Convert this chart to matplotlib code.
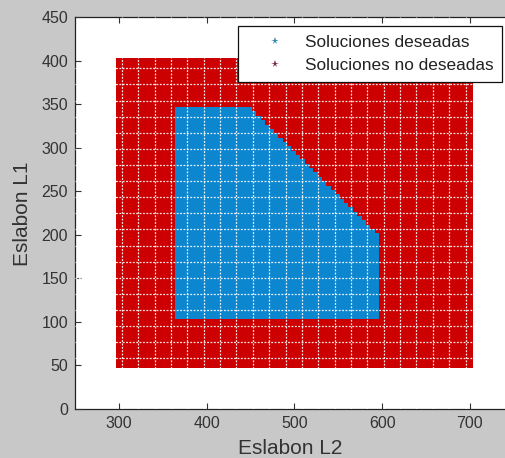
import numpy as np
import matplotlib
matplotlib.use("Agg")
import matplotlib.pyplot as plt
from matplotlib.path import Path
from matplotlib.ticker import FixedLocator

plt.rcParams['font.family'] = ['Liberation Sans', 'DejaVu Sans']

# Design sweep
L2_min, L2_max, L2_step = 300, 700, 5
L1_min, L1_max, L1_step = 50, 400, 5
# Boundary of the "desired" region (L2, L1)
desired_poly = [(363, 103), (363, 347), (452, 347), (597, 202), (597, 103)]

x_ticks = [300, 400, 500, 600, 700]
y_ticks = [0, 50, 100, 150, 200, 250, 300, 350, 400, 450]
labels = ["Soluciones deseadas", "Soluciones no deseadas"]

L2 = np.arange(L2_min, L2_max + 0.1, L2_step)
L1 = np.arange(L1_min, L1_max + 0.1, L1_step)
XX, YY = np.meshgrid(L2, L1)
pts = np.column_stack([XX.ravel(), YY.ravel()])
inside = Path(desired_poly).contains_points(pts)

W, H = 505, 458
fig = plt.figure(figsize=(W / 100, H / 100), dpi=100)
fig.patch.set_facecolor('#c8c8c8')
ax = fig.add_axes([75 / W, 49 / H, 438.75 / W, 392 / H])
ax.set_facecolor('white')

blue = '#0c86cf'
red = '#cc0000'
ax.plot(pts[inside, 0], pts[inside, 1], 's', color=blue, markersize=3.8,
        markeredgewidth=0, linestyle='none', label=labels[0])
ax.plot(pts[~inside, 0], pts[~inside, 1], 's', color=red, markersize=3.8,
        markeredgewidth=0, linestyle='none', label=labels[1])

ax.set_xlim(250, 750)
ax.set_ylim(0, 450)
ax.set_xticks(x_ticks)
ax.set_yticks(y_ticks)

# faint white dotted texture lines
ax.xaxis.set_minor_locator(FixedLocator(np.arange(303.4, 700, 18.65)))
ax.yaxis.set_minor_locator(FixedLocator(np.arange(58.2, 400, 18.49)))
ax.set_axisbelow(False)
ax.grid(which='minor', color='white', linestyle=(0, (1.5, 1.2)), linewidth=0.9, alpha=0.9)
ax.tick_params(which='minor', length=0)

ax.tick_params(which='major', direction='in', length=4.5, top=True, right=True,
               labelsize=11.5, colors='#333333', labelcolor='#333333', pad=5)
for s in ax.spines.values():
    s.set_color('#222222')
    s.set_linewidth(0.9)

ax.set_xlabel('Eslabon L2', fontsize=15, color='#333333')
ax.set_ylabel('Eslabon L1', fontsize=15, color='#333333')
ax.xaxis.set_label_coords((290 - 75) / 438.75, (409 - 439) / 392)
ax.yaxis.set_label_coords((32 - 75) / 438.75, (409 - 213.5) / 392)

leg = ax.legend(loc='upper right', bbox_to_anchor=(502 / W, 1 - 26 / H),
                bbox_transform=fig.transFigure, frameon=True, fancybox=False,
                framealpha=1, fontsize=12.4, borderpad=0.5, handlelength=3.27,
                handletextpad=0.1, labelspacing=0.5, borderaxespad=0)
leg.get_frame().set_edgecolor('#111111')
leg.get_frame().set_linewidth(0.9)
for h, c in zip(leg.legend_handles, ['#2f86b0', '#7c2a3a']):
    h.set_marker('*')
    h.set_markersize(5.5)
    h.set_color(c)
for t in leg.get_texts():
    t.set_color('#222222')

fig.savefig('out.png', dpi=100, facecolor=fig.get_facecolor())
